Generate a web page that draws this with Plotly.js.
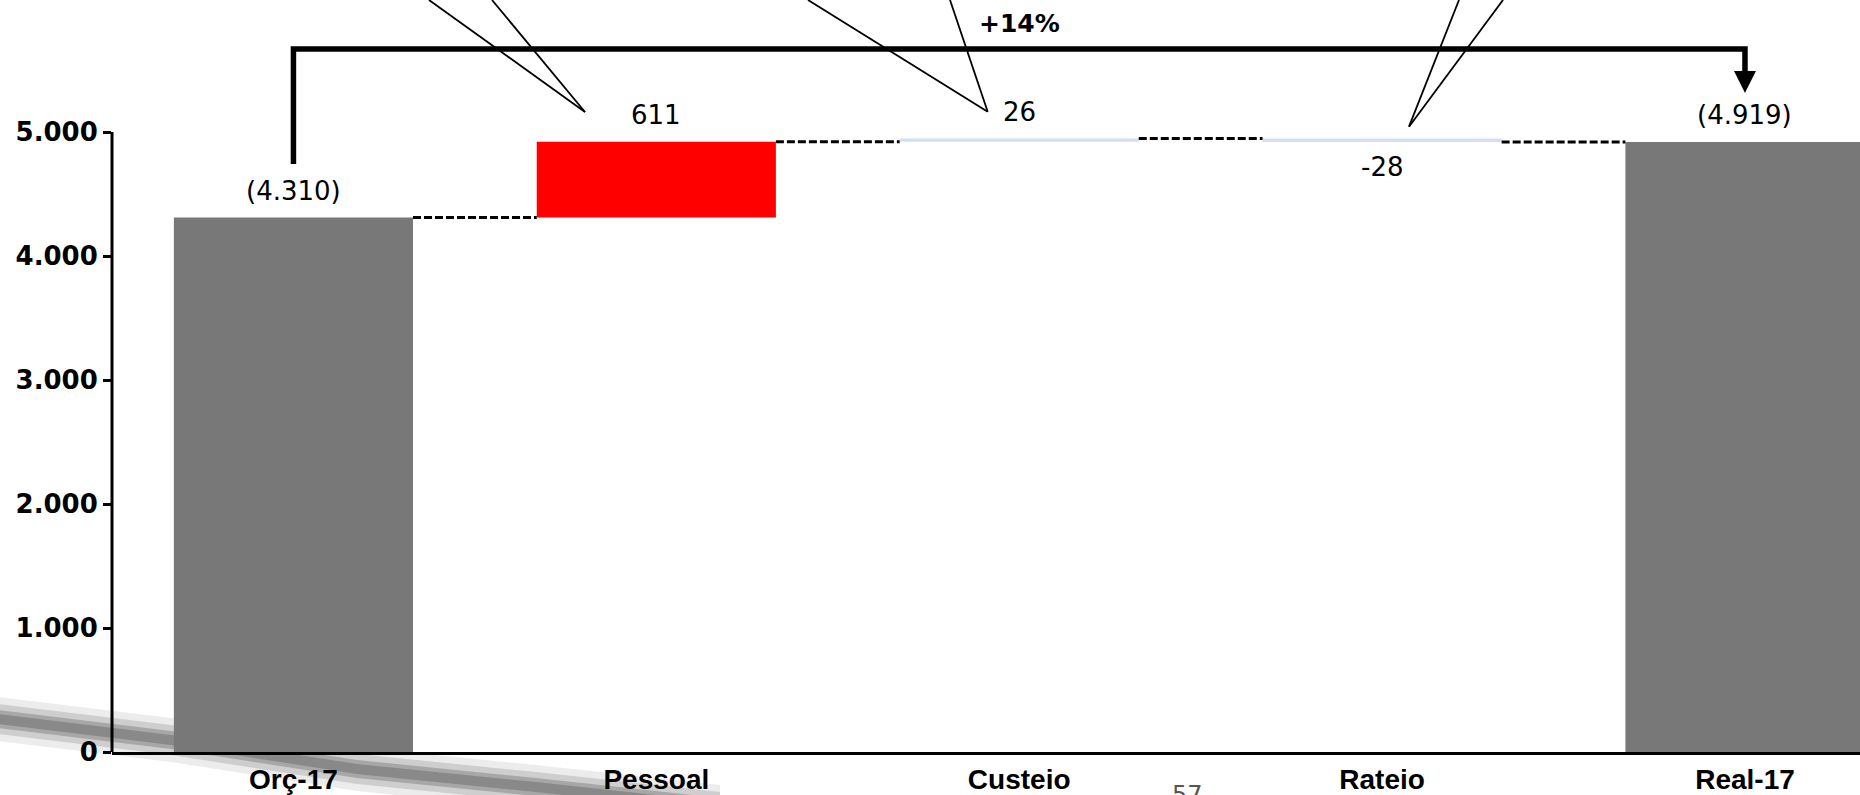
<!DOCTYPE html>
<html><head><meta charset="utf-8">
<script src="https://cdn.plot.ly/plotly-3.0.1.min.js"></script>
<style>html,body{margin:0;padding:0;background:#fff;overflow:hidden}#chart{width:1860px;height:795px}</style>
</head><body><div id="chart"></div>
<script>
// ---- data ----
const categories = ['Orç-17', 'Pessoal', 'Custeio', 'Rateio', 'Real-17'];
const values = [4310, 611, 26, -28, 4919];
const measures = ['total', 'relative', 'relative', 'relative', 'total'];
const yTickValues = [0, 1000, 2000, 3000, 4000, 5000];
const pageNumber = '57';

// ---- styles ----
const barColors = ['#787878', '#ff0000', '#cfe0f5', '#cfe0f5', '#787878'];
const BAR_W = 0.659;
const ML = 112, MB = 43, W = 1860, H = 795;
const PW = W - ML, PH = H - MB;
const PX = px => (px - ML) / PW;
const PY = py => (PH - py) / PH;

function fmt(v) {
  const s = Math.abs(Math.round(v)).toString().replace(/\B(?=(\d{3})+(?!\d))/g, '.');
  return (v < 0 ? '-' : '') + s;
}

// waterfall geometry from data
const bases = [], heights = [], levels = [];
let run = 0;
values.forEach((v, i) => {
  if (measures[i] === 'total') { bases.push(0); heights.push(v); run = v; }
  else { bases.push(run); heights.push(v); run += v; }
  levels.push(run);
});
const xs = categories.map((c, i) => i);

const barTrace = {
  type: 'bar', x: xs, y: heights, base: bases, width: BAR_W,
  marker: { color: barColors, line: { width: 0 } },
  hoverinfo: 'none'
};

const cx = [], cy = [];
for (let i = 0; i < categories.length - 1; i++) {
  cx.push(i + BAR_W / 2, i + 1 - BAR_W / 2, null);
  cy.push(levels[i], levels[i], null);
}
const connTrace = {
  type: 'scatter', mode: 'lines', x: cx, y: cy,
  line: { color: '#000', width: 3, dash: '8px,3px' },
  hoverinfo: 'none', connectgaps: false
};

const labelFont = { family: 'DejaVu Sans', size: 26, color: '#000' };
const annotations = [];
values.forEach((v, i) => {
  const top = Math.max(bases[i], bases[i] + heights[i]);
  const bot = Math.min(bases[i], bases[i] + heights[i]);
  const txt = measures[i] === 'total' ? '(' + fmt(v) + ')' : fmt(v);
  if (measures[i] === 'total' || v >= 0) {
    annotations.push({ x: i, y: top, text: txt, showarrow: false, yanchor: 'bottom', yshift: 10, font: labelFont });
  } else {
    annotations.push({ x: i, y: bot, text: txt, showarrow: false, yanchor: 'top', yshift: -8, font: labelFont });
  }
});

// bracket with growth
const first = 0, last = categories.length - 1;
const growth = Math.round((values[last] / values[first] - 1) * 100);
const BR_TOP = 5669, BR_START = 4742, AR_BASE = 5492, AR_TIP = 5315, AR_HALF = 0.0303;
annotations.push({
  x: (first + last) / 2, y: 5879, text: (growth >= 0 ? '+' : '') + growth + '%',
  showarrow: false, yanchor: 'middle',
  font: { family: 'DejaVu Sans', size: 25, weight: 'bold', color: '#000' }
});
annotations.push({
  xref: 'paper', yref: 'paper', x: PX(1187), y: PY(779), text: pageNumber, showarrow: false,
  yanchor: 'top', font: { family: 'DejaVu Sans', size: 24, color: '#555' }
});

const shapes = [];
// background streak (soft, layered)
const center = [[-10,718],[171,740],[357,769],[536,787],[720,807]];
[[22, 0.10], [15, 0.18], [9, 0.28], [5, 0.3]].forEach(([hw, op]) => {
  const topPts = center.map(p => [p[0], p[1] - hw]);
  const botPts = center.slice().reverse().map(p => [p[0], p[1] + hw]);
  const pts = topPts.concat(botPts);
  shapes.push({
    type: 'path', xref: 'paper', yref: 'paper', layer: 'below',
    path: 'M' + pts.map(p => PX(p[0]) + ',' + PY(p[1])).join('L') + 'Z',
    fillcolor: 'rgba(70,70,70,' + op + ')', line: { width: 0 }
  });
});
// y axis line from 0 to top tick
shapes.push({
  type: 'line', xref: 'paper', yref: 'y', x0: 0, x1: 0,
  y0: yTickValues[0], y1: yTickValues[yTickValues.length - 1],
  line: { color: '#000', width: 3 }
});
// bracket
shapes.push({
  type: 'path', xref: 'x', yref: 'y',
  path: `M${first},${BR_START}L${first},${BR_TOP}L${last},${BR_TOP}L${last},${AR_BASE}`,
  line: { color: '#000', width: 5.5 }
});
shapes.push({
  type: 'path', xref: 'x', yref: 'y',
  path: `M${last - AR_HALF},${AR_BASE}L${last + AR_HALF},${AR_BASE}L${last},${AR_TIP}Z`,
  fillcolor: '#000', line: { width: 0 }
});
// callout lines (from boxes above the chart)
const callouts = [[429,0,585,112],[492,0,585,112],[808,0,987.7,111.7],[950,0,987.7,111.7],[1459,0,1409,126.7],[1503,0,1409,126.7]];
callouts.forEach(c => shapes.push({
  type: 'line', xref: 'paper', yref: 'paper',
  x0: PX(c[0]), y0: PY(c[1]), x1: PX(c[2]), y1: PY(c[3]),
  line: { color: '#000', width: 1.8 }
}));

const layout = {
  width: W, height: H,
  margin: { l: ML, r: 0, t: 0, b: MB, pad: 0 },
  paper_bgcolor: '#fff', plot_bgcolor: 'rgba(0,0,0,0)',
  showlegend: false,
  xaxis: {
    range: [-0.5, 4.317], tickmode: 'array', tickvals: xs, ticktext: categories,
    showgrid: false, zeroline: false, showline: true, linewidth: 3, linecolor: '#000',
    ticks: '', tickfont: { family: 'Liberation Sans', size: 28, weight: 'bold', color: '#000' },
    fixedrange: true
  },
  yaxis: {
    range: [0, PH / 0.124], tickmode: 'array', tickvals: yTickValues, ticktext: yTickValues.map(fmt),
    showgrid: false, zeroline: false, showline: false,
    ticks: 'outside', ticklen: 8, tickwidth: 3, tickcolor: '#000',
    tickfont: { family: 'DejaVu Sans', size: 26, weight: 'bold', color: '#000' },
    fixedrange: true
  },
  shapes: shapes,
  annotations: annotations
};

Plotly.newPlot('chart', [barTrace, connTrace], layout, { displayModeBar: false, staticPlot: true });
</script></body></html>
